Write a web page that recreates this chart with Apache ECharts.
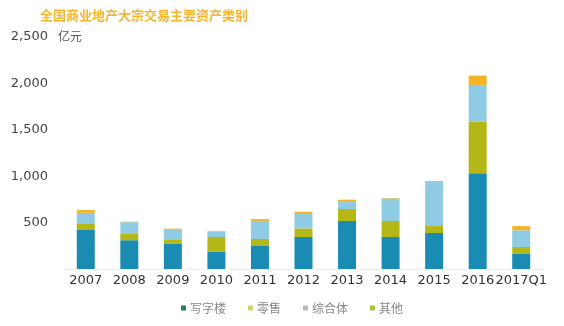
<!DOCTYPE html>
<html><head><meta charset="utf-8">
<script src="https://cdn.jsdelivr.net/npm/echarts@6/dist/echarts.min.js"></script>
<style>html,body{margin:0;padding:0;background:#fff}#c{width:564px;height:326px}</style>
</head><body><div id="c"></div>
<script>
var categories = ['2007','2008','2009','2010','2011','2012','2013','2014','2015','2016','2017Q1'];
var office    = [420, 310, 270, 185, 248, 345, 517, 345, 388, 1032, 162];
var retail    = [ 65,  75,  50, 160,  75,  92, 130, 172,  75,  557,  75];
var composite = [120, 120, 110,  60, 195, 155,  85, 243, 485,  395, 180];
var other     = [ 30,   5,   5,   5,  20,  25,  15,   5,   0,  100,  45];
var seriesNames = ['写字楼','零售','综合体','其他'];
var yTicks = [0, 500, 1000, 1500, 2000, 2500];

var barColors = ['#1a8cb4','#b5b716','#8fcbe2','#f4b424'];
var legendColors = ['#2a7d5e','#c6d86c','#b3bcc4','#a9c235'];
var dataSets = [office, retail, composite, other];

var chart = echarts.init(document.getElementById('c'));
chart.setOption({
  animation:false,
  grid:{left:64, right:21, top:37, bottom:57},
  graphic:[
    {type:'text', left:40, top:9, style:{text:'全国商业地产大宗交易主要资产类别', fill:'#f5b52e', font:'bold 13px "Noto Sans CJK SC"'}},
    {type:'text', left:58, top:30, style:{text:'亿元', fill:'#555', font:'12px "Noto Sans CJK SC"'}}
  ],
  legend:{bottom:7, left:176, itemWidth:5, itemHeight:5, itemGap:22,
    icon:'rect',
    textStyle:{color:'#888', fontSize:12, fontFamily:'Noto Sans CJK SC', padding:[0,0,0,-1]},
    data: seriesNames.map(function(n,i){return {name:n, itemStyle:{color:legendColors[i]}};})},
  xAxis:{type:'category', data:categories,
    axisLine:{show:true, lineStyle:{color:'#eeeeee'}}, axisTick:{show:false},
    axisLabel:{color:'#333', fontSize:13, fontFamily:'DejaVu Sans', margin:5, interval:0}},
  yAxis:{type:'value', min:0, max:2500, interval:500,
    splitLine:{show:false}, axisLine:{show:false}, axisTick:{show:false},
    axisLabel:{color:'#444', fontSize:13, fontFamily:'DejaVu Sans', margin:16,
      formatter:function(v){ return v===0 ? '' : v.toLocaleString('en-US'); }}},
  series: seriesNames.map(function(n,i){
    return {name:n, type:'bar', stack:'a', barWidth:18, data:dataSets[i],
      itemStyle:{color:barColors[i]}};
  })
});
</script></body></html>
